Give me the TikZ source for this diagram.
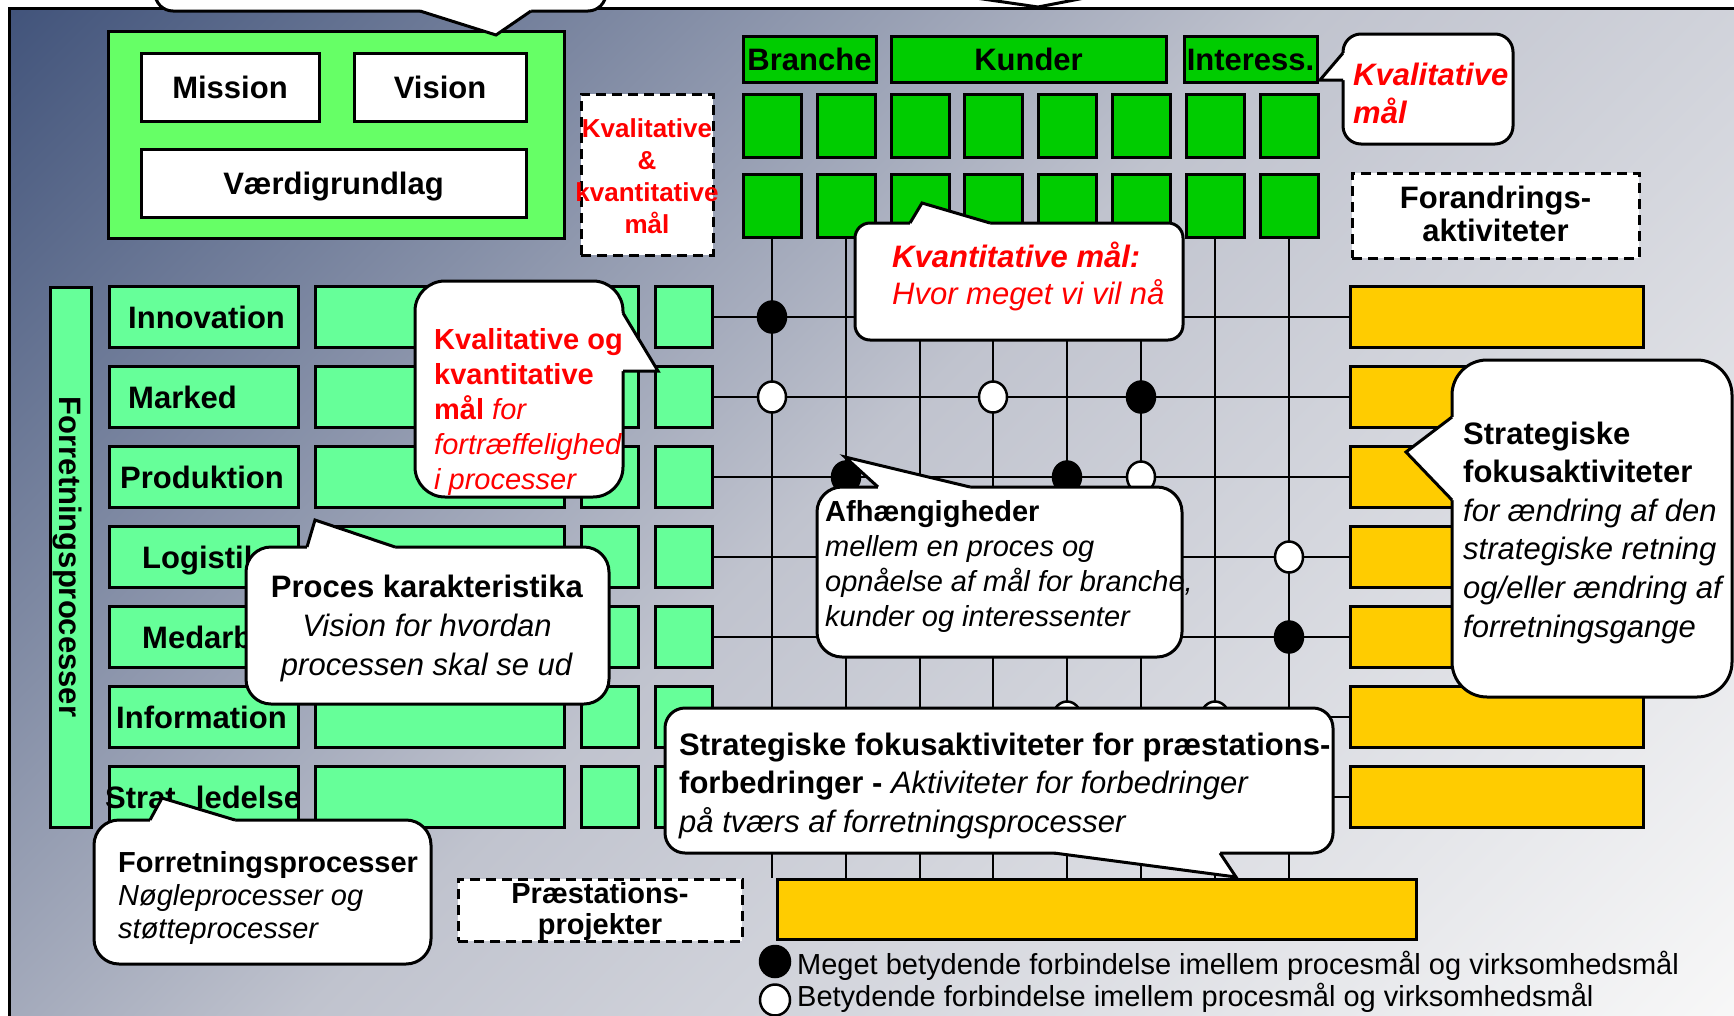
\documentclass[tikz,border=0pt]{standalone}
\usepackage{fontspec}
\setmainfont{Liberation Sans}
\usetikzlibrary{shapes.geometric,calc}
\definecolor{gbig}{HTML}{66FF66}
\definecolor{procg}{HTML}{66FF99}
\definecolor{goalg}{HTML}{00CC00}
\definecolor{yel}{HTML}{FFCC00}
\definecolor{bgA}{HTML}{42547B}
\definecolor{bgB}{HTML}{C0C3CE}
\definecolor{bgC}{HTML}{F8F8F8}
\pgfdeclareverticalshading{bgshade}{100bp}{color(0bp)=(bgC); color(14.6bp)=(bgC); color(52bp)=(bgB); color(85.4bp)=(bgA); color(100bp)=(bgA)}
\newcommand{\mycallout}[7]{%
  \draw[cb, rounded corners=#3] #1 rectangle #2;
  \fill[white] #4 -- #5 -- #6 -- ($#6+#7$) -- ($#4+#7$) -- cycle;
  \draw[cw] #4 -- #5 -- #6;
}
\begin{document}
\begin{tikzpicture}[x=1pt,y=-1pt,
  bx/.style={draw=black, line width=3pt, inner sep=0pt, rectangle},
  dbx/.style={bx, fill=white, dash pattern=on 10pt off 6pt},
  gl/.style={line width=2.5pt},
  dotb/.style={ellipse, draw=black, fill=black, line width=2.5pt, minimum width=28pt, minimum height=31pt, inner sep=0pt},
  dotw/.style={dotb, fill=white},
  cb/.style={draw=black, fill=white, line width=3pt},
  cw/.style={draw=black, line width=3pt, line join=miter},
  lab/.style={inner sep=0pt, text height=22pt, text depth=0pt, font=\fontsize{31}{38}\selectfont\bfseries},
  tx/.style={inner sep=0pt, anchor=base west, align=left},
  txc/.style={inner sep=0pt, anchor=base, align=center}]
\useasboundingbox (0,0) rectangle (1734,1015);
\clip (0,0) rectangle (1734,1015);
\fill[white] (0,0) rectangle (1734,1015);
\path[shade, shading=bgshade, shading angle=45, draw=black, line width=3pt] (9,8) rectangle (1745,1028);

% vision block
\node[bx, fill=gbig, minimum width=456pt, minimum height=207pt] (vm) at (336,134.5) {};
\node[bx, fill=white, minimum width=178pt, minimum height=68pt, lab] (mis) at (230,87) {Mission};
\node[bx, fill=white, minimum width=172pt, minimum height=68pt, lab] (vis) at (440,87) {Vision};
\node[bx, fill=white, minimum width=385pt, minimum height=68pt, lab] (vaerd) at (333.5,183) {Værdigrundlag};

% dashed boxes (text anchors are at the baseline of the LAST line)
\node[dbx, minimum width=132pt, minimum height=161pt] (kk) at (647,174.5) {};
\node[txc, text=red, font=\fontsize{26}{32}\selectfont\bfseries] (kkt) at (647,233) {Kvalitative\\\&\\kvantitative\\mål};
\node[dbx, minimum width=287pt, minimum height=85pt] (fa) at (1495.5,215.5) {};
\node[txc, font=\fontsize{31}{33}\selectfont\bfseries] (fat) at (1495.5,241) {Forandrings-\\aktiviteter};
\node[dbx, minimum width=284pt, minimum height=62pt] (pp) at (600,910) {};
\node[txc, font=\fontsize{29}{31}\selectfont\bfseries] (ppt) at (600,934) {Præstations-\\projekter};

% goal headers
\node[bx, fill=goalg, minimum width=133pt, minimum height=46pt, lab] (hb) at (809.5,59) {Branche};
\node[bx, fill=goalg, minimum width=275pt, minimum height=46pt, lab] (hk) at (1028.5,59) {Kunder};
\node[bx, fill=goalg, minimum width=133pt, minimum height=46pt, lab] (hi) at (1250.5,59) {Interess.};

% bottom yellow
\node[bx, fill=yel, minimum width=639pt, minimum height=60pt] (by) at (1096.5,909) {};

% goal columns and vertical lines
\foreach \j/\xx in {1/772,2/846,3/920,4/993,5/1067,6/1141,7/1215,8/1289} {
  \node[bx, fill=goalg, minimum width=58pt, minimum height=63pt] (ga\j) at (\xx,125.5) {};
  \node[bx, fill=goalg, minimum width=58pt, minimum height=63pt] (gb\j) at (\xx,205.5) {};
  \draw[gl] (gb\j.south) -- (gb\j.south |- by.north);
}

% process rows
\node[bx, fill=procg, minimum width=41pt, minimum height=540pt] (fp) at (70.5,557) {};
\node[lab, rotate=-90] (fpt) at (70.5,557) {Forretningsprocesser};
\foreach \i/\yy in {1/317,2/397,3/477,4/557,5/637,6/717,7/797} {
  \node[bx, fill=procg, minimum width=189pt, minimum height=61pt] (pn\i) at (203.5,\yy) {};
  \node[bx, fill=procg, minimum width=249pt, minimum height=61pt] (pw\i) at (439.5,\yy) {};
  \node[bx, fill=procg, minimum width=57pt, minimum height=61pt] (pa\i) at (609.5,\yy) {};
  \node[bx, fill=procg, minimum width=57pt, minimum height=61pt] (pb\i) at (683.5,\yy) {};
  \node[bx, fill=yel, minimum width=293pt, minimum height=61pt] (yr\i) at (1496.5,\yy) {};
  \draw[gl] (pb\i.east) -- (yr\i.west);
}
\node[lab, anchor=west] (l1) at (128,317) {Innovation};
\node[lab, anchor=west] (l2) at (128,397) {Marked};
\node[lab, anchor=west] (l3) at (120,477) {Produktion};
\node[lab, anchor=west] (l4) at (142,557) {Logistik};
\node[lab, anchor=west] (l5) at (142,637) {Medarb.};
\node[lab, anchor=west] (l6) at (116,717) {Information};
\node[lab, anchor=west] (l7) at (105,797) {Strat. ledelse};

% dots
\node[dotb] (d11) at (772,317) {};
\node[dotw] (d21) at (772,397) {};
\node[dotw] (d24) at (993,397) {};
\node[dotb] (d26) at (1141,397) {};
\node[dotb] (d32) at (846,477) {};
\node[dotb] (d35) at (1067,477) {};
\node[dotw] (d36) at (1141,477) {};
\node[dotw] (d48) at (1289,557) {};
\node[dotb] (d58) at (1289,637) {};
\node[dotw] (d65) at (1067,717) {};
\node[dotw] (d67) at (1215,717) {};

% callouts
\mycallout{(155,-60)}{(606,11)}{18pt}{(420,11)}{(496,35)}{(531,11)}{(0,-5)}
\mycallout{(720,-150)}{(1340,-4)}{18pt}{(962,-4)}{(1038,7)}{(1095,-4)}{(0,-5)}

\mycallout{(1343,34)}{(1513,144)}{18pt}{(1343,53)}{(1320,80)}{(1343,80)}{(5,0)}
\node[tx, text=red, font=\fontsize{31}{38}\selectfont\bfseries\itshape] (kmt) at (1353,123) {Kvalitative\\mål};

\mycallout{(855,223)}{(1183,340)}{15pt}{(910,223)}{(922,203)}{(990,223)}{(0,5)}
\node[tx, text=red, font=\fontsize{31}{37}\selectfont] (kvt) at (892,304) {\textbf{\textit{Kvantitative mål:}}\\\textit{Hvor meget vi vil nå}};

\mycallout{(415,281)}{(623,497)}{30pt}{(623,313)}{(658,371)}{(623,371)}{(-5,0)}
\node[tx, text=red, font=\fontsize{29}{35}\selectfont] (kot) at (434,489) {\textbf{Kvalitative og}\\\textbf{kvantitative}\\\textbf{mål} \textit{for}\\\textit{fortræffelighed}\\\textit{i processer}};

\mycallout{(246,547)}{(609,704)}{25pt}{(307,547)}{(315,520)}{(395,547)}{(0,5)}
\node[txc, font=\fontsize{31}{39}\selectfont] (pkt) at (427,675) {\textbf{Proces karakteristika}\\\textit{Vision for hvordan}\\\textit{processen skal se ud}};

\mycallout{(94,820)}{(431,964)}{25pt}{(150,820)}{(162,798)}{(235,820)}{(0,5)}
\node[tx, font=\fontsize{29}{33}\selectfont] (frt) at (118,938) {\textbf{Forretningsprocesser}\\\textit{Nøgleprocesser og}\\\textit{støtteprocesser}};

\mycallout{(817,487)}{(1182,657)}{25pt}{(878,487)}{(845,457)}{(970,487)}{(0,5)}
\node[tx, font=\fontsize{29}{35}\selectfont] (aht) at (825,626) {\textbf{Afhængigheder}\\\textit{mellem en proces og}\\\textit{opnåelse af mål for branche,}\\\textit{kunder og interessenter}};

\mycallout{(1452,360)}{(1732,697)}{35pt}{(1452,417)}{(1406,452)}{(1452,500)}{(5,0)}
\node[tx, font=\fontsize{31}{38.6}\selectfont] (sft) at (1463,637) {\textbf{Strategiske}\\\textbf{fokusaktiviteter}\\\textit{for ændring af den}\\\textit{strategiske retning}\\\textit{og/eller ændring af}\\\textit{forretningsgange}};

\mycallout{(665,708)}{(1333,853)}{20pt}{(1220,853)}{(1236,877)}{(1054,853)}{(0,-5)}
\node[tx, font=\fontsize{31}{38.5}\selectfont] (spt) at (679,832) {\textbf{Strategiske fokusaktiviteter for præstations-}\\\textbf{forbedringer -} \textit{Aktiviteter for forbedringer}\\\textit{på tværs af forretningsprocesser}};

% legend
\node[dotb, minimum width=30pt] (lgb) at (775,961.5) {};
\node[dotw, minimum width=30pt] (lgw) at (775,1000) {};
\node[tx, font=\fontsize{29}{32}\selectfont] (lgt) at (797,1006) {Meget betydende forbindelse imellem procesmål og virksomhedsmål\\Betydende forbindelse imellem procesmål og virksomhedsmål};
\end{tikzpicture}
\end{document}
